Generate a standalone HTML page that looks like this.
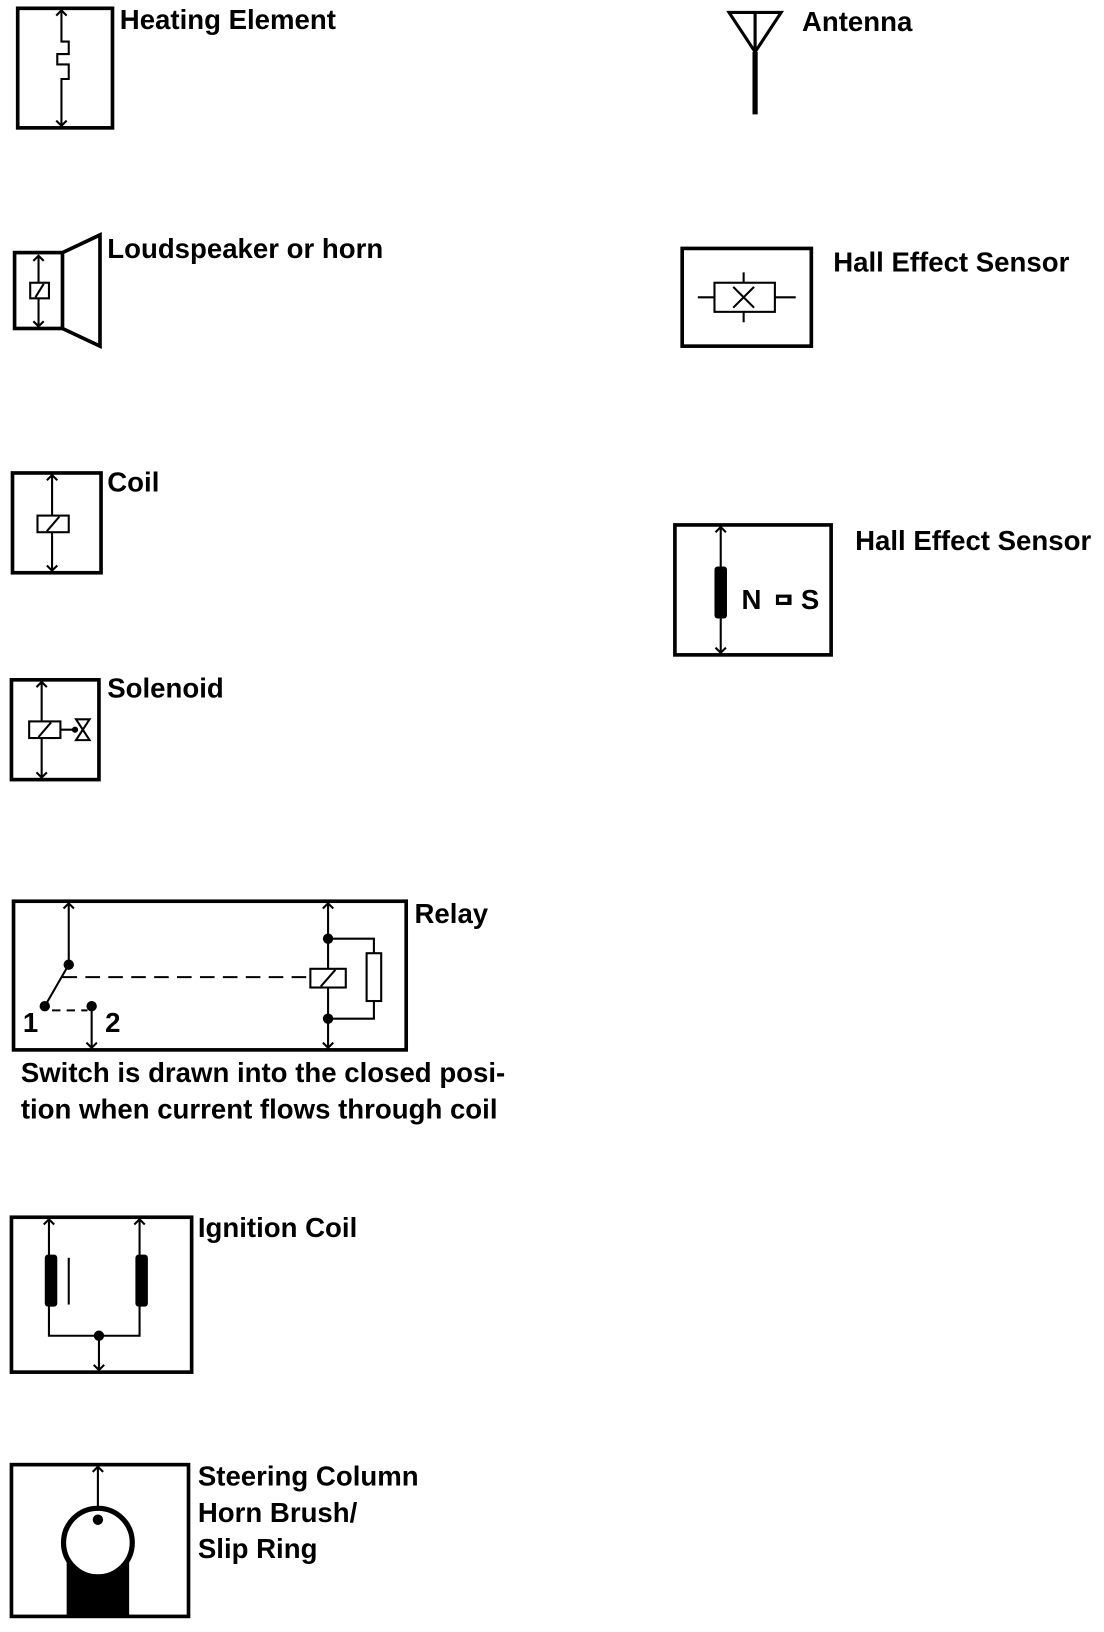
<!DOCTYPE html>
<html><head><style>
html,body{margin:0;padding:0;background:#fff;}
svg{display:block;}
text{font-family:"Liberation Sans",sans-serif;font-weight:bold;font-size:26.5px;fill:#000;}
</style></head><body>
<svg width="1104" height="1632" viewBox="0 0 1060 1570" preserveAspectRatio="none" xmlns="http://www.w3.org/2000/svg">
<g fill="none" stroke="#000" stroke-width="2">
<rect x="17" y="8" width="91" height="115" stroke-width="3.5"/>
<path d="M59 10 V40 H66 V52 H55 V62 H66 V76 H59 V121"/>
<path d="M54 15 L59 10 L64 15 M54 116 L59 121 L64 116"/>
<path d="M700 12 H750 L725 50 Z M725 12 V50" stroke-width="3"/>
<path d="M725 50 V110" stroke-width="5"/>
<rect x="14" y="243" width="46" height="73" stroke-width="3.5"/>
<path d="M60 243 L96 226 V333 L60 316" stroke-width="3.5"/>
<path d="M37 246 V314 M32 251 L37 246 L42 251 M32 309 L37 314 L42 309"/>
<rect x="29" y="272" width="18" height="15" fill="#fff"/><path d="M34 286 L42 273"/>
<rect x="655" y="239" width="124" height="94" stroke-width="3.5"/>
<path d="M670 286 H686 M744 286 H764 M714 262 V272 M714 300 V310"/>
<rect x="686" y="272" width="58" height="28"/>
<path d="M704 276 L724 296 M724 276 L704 296"/>
<rect x="12" y="455" width="85" height="96" stroke-width="3.5"/>
<path d="M50 457 V549 M45 462 L50 457 L55 462 M45 544 L50 549 L55 544"/>
<rect x="36" y="496" width="30" height="16" fill="#fff"/><path d="M45 511 L57 497"/>
<rect x="648" y="505" width="150" height="125" stroke-width="3.5"/>
<path d="M692 507 V628 M687 512 L692 507 L697 512 M687 623 L692 628 L697 623"/>
<rect x="11" y="654" width="84" height="96" stroke-width="3.5"/>
<path d="M40 656 V748 M35 661 L40 656 L45 661 M35 743 L40 748 L45 743"/>
<rect x="28" y="694" width="30" height="16" fill="#fff"/><path d="M37 709 L49 695"/>
<path d="M58 702 H72 M73 692 H86 L73 712 H86 Z"/>
<rect x="13" y="867" width="377" height="143" stroke-width="3.5"/>
<path d="M66 869 V928 L43 968 M61 874 L66 869 L71 874"/>
<path d="M60 940 H298" stroke-dasharray="14 8"/>
<path d="M50 972 H84" stroke-dasharray="8 6"/>
<path d="M88 968 V1008 M83 1003 L88 1008 L93 1003"/>
<path d="M315 869 V1008 M310 874 L315 869 L320 874 M310 1003 L315 1008 L320 1003"/>
<rect x="298" y="932" width="34" height="18" fill="#fff"/><path d="M308 949 L322 933"/>
<path d="M315 903 H359 V917 M359 963 V980 H315"/>
<rect x="352" y="917" width="14" height="46"/>
<rect x="11" y="1171" width="173" height="149" stroke-width="3.5"/>
<path d="M47 1173 V1285 H134 V1173 M42 1178 L47 1173 L52 1178 M129 1178 L134 1173 L139 1178"/>
<path d="M66 1210 V1255"/>
<path d="M95 1285 V1318 M90 1313 L95 1318 L100 1313"/>
<rect x="11" y="1409" width="170" height="146" stroke-width="3.5"/>
<path d="M94 1411 V1462 M89 1416 L94 1411 L99 1416"/>
</g>
<g fill="#000">
<rect x="686" y="545" width="12" height="50" rx="3"/>
<rect x="745" y="572" width="15" height="10"/>
<rect x="748" y="575" width="8" height="4" fill="#fff"/>
<circle cx="72" cy="702" r="3"/>
<circle cx="66" cy="928" r="5"/><circle cx="43" cy="968" r="5"/><circle cx="88" cy="968" r="5"/>
<circle cx="315" cy="903" r="5"/><circle cx="315" cy="980" r="5"/>
<rect x="43" y="1207" width="12" height="50" rx="3"/>
<rect x="130" y="1207" width="12" height="50" rx="3"/>
<circle cx="95" cy="1285" r="5"/>
<rect x="64" y="1500" width="60" height="55"/>
</g>
<circle cx="94" cy="1484" r="33" fill="#fff" stroke="#000" stroke-width="5"/>
<circle cx="94" cy="1462" r="5" fill="#000"/>
<text x="115" y="28">Heating Element</text>
<text x="770" y="30">Antenna</text>
<text x="103" y="248">Loudspeaker or horn</text>
<text x="800" y="261">Hall Effect Sensor</text>
<text x="103" y="473">Coil</text>
<text x="821" y="529">Hall Effect Sensor</text>
<text x="712" y="586">N</text>
<text x="769" y="586">S</text>
<text x="103" y="671">Solenoid</text>
<text x="398" y="888">Relay</text>
<text x="22" y="993">1</text>
<text x="101" y="993">2</text>
<text x="20" y="1041">Switch is drawn into the closed posi-</text>
<text x="20" y="1076">tion when current flows through coil</text>
<text x="190" y="1190">Ignition Coil</text>
<text x="190" y="1429">Steering Column</text>
<text x="190" y="1464">Horn Brush/</text>
<text x="190" y="1499">Slip Ring</text>
</svg>
</body></html>
